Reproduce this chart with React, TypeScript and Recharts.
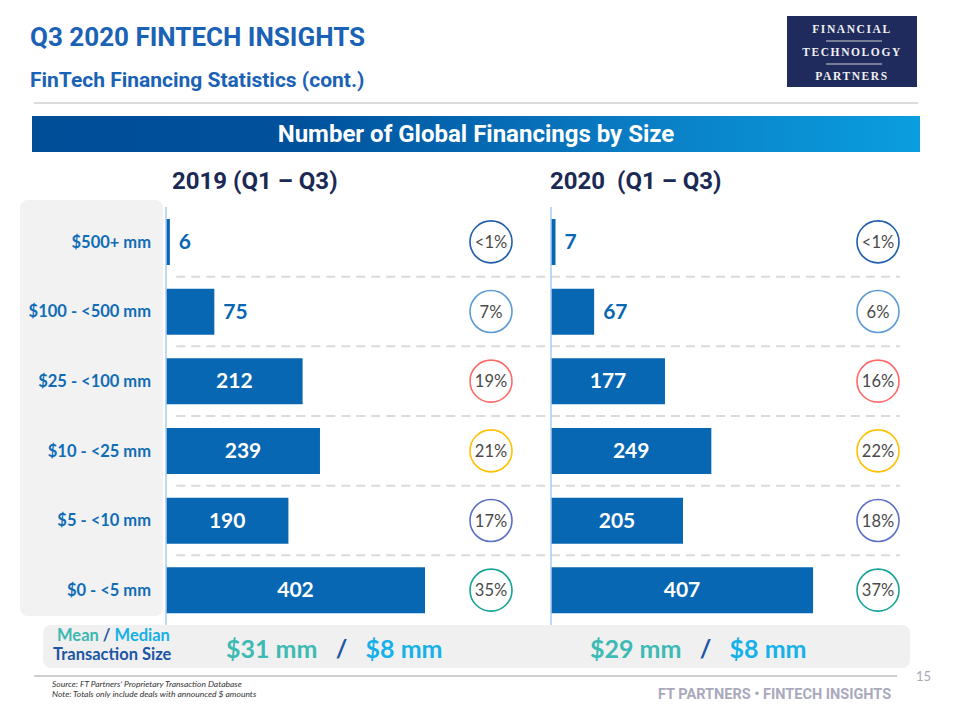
import React from "react";
import { BarChart, Bar, XAxis, YAxis, ReferenceLine, LabelList } from "recharts";

// size buckets, top to bottom
const sizeBuckets = ["$500+ mm", "$100 - <500 mm", "$25 - <100 mm", "$10 - <25 mm", "$5 - <10 mm", "$0 - <5 mm"];
const counts2019 = [6, 75, 212, 239, 190, 402];
const counts2020 = [7, 67, 177, 249, 205, 407];
const shares2019 = ["<1%", "7%", "19%", "21%", "17%", "35%"];
const shares2020 = ["<1%", "6%", "16%", "22%", "18%", "37%"];
const circleColors = ["#1f5fad", "#5b9bd5", "#ff6b6b", "#ffc000", "#5b6fc4", "#17a398"];

const mean2019 = "$31 mm";
const median2019 = "$8 mm";
const mean2020 = "$29 mm";
const median2020 = "$8 mm";

const BAR_BLUE = "#0867b3";
const FONT = "Lato, 'Open Sans', sans-serif";
const ROBOTO = "Roboto, sans-serif";

const rows2019 = sizeBuckets.map((label, i) => ({ label, count: counts2019[i], pct: shares2019[i] }));
const rows2020 = sizeBuckets.map((label, i) => ({ label, count: counts2020[i], pct: shares2020[i] }));

const ValueLabel = (props: any) => {
  const { x, y, width, height, value } = props;
  const cy = y + height / 2;
  if (width > 80) {
    return (
      <text x={x + width / 2} y={cy} dy={7} textAnchor="middle" fill="#fff" fontSize={21} fontWeight={700} fontFamily={FONT}>
        {value}
      </text>
    );
  }
  return (
    <text x={x + width + 9} y={cy} dy={7} textAnchor="start" fill={BAR_BLUE} fontSize={21} fontWeight={700} fontFamily={FONT}>
      {value}
    </text>
  );
};

const ShareTick = (props: any) => {
  const { x, y, payload, index, shift } = props;
  return (
    <g>
      <circle cx={x + shift} cy={y} r={21} fill="#fff" stroke={circleColors[index % circleColors.length]} strokeWidth={1.6} />
      <text x={x + shift} y={y} dy={6} textAnchor="middle" fill="#4a4a4a" fontSize={16.5} fontWeight={400} fontFamily={FONT}>
        {payload.value}
      </text>
    </g>
  );
};

function SizeChart({ data, withLabels, width, max, shift, dashStart }: any) {
  return (
    <BarChart
      width={width}
      height={432}
      data={data}
      layout="vertical"
      margin={{ top: 7, right: 0, bottom: 7, left: 0 }}
      barSize={46}
    >
      <XAxis type="number" hide domain={[0, max]} allowDataOverflow />
      <YAxis
        type="category"
        dataKey="label"
        width={withLabels ? 146 : 1}
        axisLine={{ stroke: "#a9cdef", strokeWidth: 1.5 }}
        tickLine={false}
        tickSize={0}
        tickMargin={15}
        tick={withLabels ? { fill: "#0f6cb6", fontSize: 16.5, fontWeight: 700, fontFamily: FONT } : false}
        interval={0}
      />
      <YAxis
        yAxisId="pct"
        orientation="right"
        type="category"
        dataKey="pct"
        width={1}
        axisLine={false}
        tickLine={false}
        tickSize={0}
        tickMargin={0}
        interval={0}
        tick={<ShareTick shift={shift} />}
      />
      {sizeBuckets.slice(1).map((b) => (
        <ReferenceLine
          key={b}
          segment={[{ x: dashStart, y: b }, { x: max, y: b }]}
          position="start"
          stroke="#dadada"
          strokeWidth={2}
          strokeDasharray="9 6"
        />
      ))}
      <Bar dataKey="count" fill={BAR_BLUE} isAnimationActive={false}>
        <LabelList dataKey="count" content={<ValueLabel />} />
      </Bar>
    </BarChart>
  );
}

export default function App() {
  const abs = (s: any) => ({ position: "absolute" as const, ...s });
  return (
    <div style={{ position: "absolute", left: 0, top: 0, width: 960, height: 720, background: "#fff", overflow: "hidden", fontFamily: ROBOTO }}>
      {/* header */}
      <div style={abs({ left: 30, top: 22, fontSize: 26, fontWeight: 700, color: "#1a62b5", whiteSpace: "nowrap" })}>Q3 2020 FINTECH INSIGHTS</div>
      <div style={abs({ left: 30, top: 68, fontSize: 21, fontWeight: 700, color: "#1a62b5", whiteSpace: "nowrap" })}>FinTech Financing Statistics (cont.)</div>
      <div style={abs({ left: 34, top: 102, width: 884, height: 2, background: "#dcdcdc" })} />

      {/* logo */}
      <div style={abs({ left: 787, top: 16, width: 130, height: 71, background: "#1f2a5d" })}>
        <svg width={130} height={71}>
          <g fontFamily="'Liberation Serif', 'DejaVu Serif', serif" fontSize={11.5} fontWeight={700} fill="#f0f0f0" textAnchor="middle" letterSpacing={1.6}>
            <text x={65} y={17}>FINANCIAL</text>
            <text x={65} y={40}>TECHNOLOGY</text>
            <text x={65} y={64}>PARTNERS</text>
          </g>
          <line x1={39} x2={95} y1={25} y2={25} stroke="#d0d0d0" strokeWidth={1.2} />
          <line x1={39} x2={95} y1={48} y2={48} stroke="#d0d0d0" strokeWidth={1.2} />
        </svg>
      </div>

      {/* banner */}
      <div
        style={abs({
          left: 32, top: 116, width: 888, height: 36,
          background: "linear-gradient(90deg, #004d98 0%, #00519c 30%, #0a7fc6 70%, #0a9edf 100%)",
          color: "#fff", fontSize: 24, fontWeight: 700, textAlign: "center", lineHeight: "36px",
        })}
      >
        Number of Global Financings by Size
      </div>

      <div style={abs({ left: 172, top: 167, fontSize: 24, fontWeight: 700, color: "#1b2a55", whiteSpace: "nowrap" })}>2019 (Q1 – Q3)</div>
      <div style={abs({ left: 550, top: 167, fontSize: 24, fontWeight: 700, color: "#1b2a55", whiteSpace: "pre" })}>2020  (Q1 – Q3)</div>

      {/* label panel */}
      <div style={abs({ left: 20, top: 200, width: 143, height: 416, background: "#f2f2f2", borderRadius: 8 })} />

      <div style={abs({ left: 20, top: 200 })}>
        <SizeChart data={rows2019} withLabels width={531} max={596} shift={-59} dashStart={16} />
      </div>
      <div style={abs({ left: 550, top: 200 })}>
        <SizeChart data={rows2020} withLabels={false} width={351} max={542} shift={-22} dashStart={0} />
      </div>

      {/* mean / median box */}
      <div style={abs({ left: 43, top: 625, width: 867, height: 43, background: "#f0f0f0", borderRadius: 8 })} />
      <div style={abs({ left: 57, top: 625, fontSize: 16.5, fontWeight: 700, fontFamily: FONT, whiteSpace: "pre" })}>
        <span style={{ color: "#3db8b0" }}>Mean</span>
        <span style={{ color: "#1c56a4" }}> / </span>
        <span style={{ color: "#16b0e8" }}>Median</span>
      </div>
      <div style={abs({ left: 53, top: 644, fontSize: 16.5, fontWeight: 700, fontFamily: FONT, color: "#1c56a4", whiteSpace: "nowrap" })}>Transaction Size</div>

      <div style={abs({ left: 226, top: 633, fontSize: 25, fontWeight: 700, fontFamily: FONT, whiteSpace: "pre" })}>
        <span style={{ color: "#3dbab4" }}>{mean2019}</span>
        <span style={{ color: "#1c56a4" }}>{"   /   "}</span>
        <span style={{ color: "#17b1ea" }}>{median2019}</span>
      </div>
      <div style={abs({ left: 590, top: 633, fontSize: 25, fontWeight: 700, fontFamily: FONT, whiteSpace: "pre" })}>
        <span style={{ color: "#3dbab4" }}>{mean2020}</span>
        <span style={{ color: "#1c56a4" }}>{"   /   "}</span>
        <span style={{ color: "#17b1ea" }}>{median2020}</span>
      </div>

      {/* footer */}
      <div style={abs({ left: 34, top: 675, width: 863, height: 2, background: "#cfcfcf" })} />
      <div style={abs({ left: 916, top: 668, fontSize: 13, color: "#a8a8b8", fontFamily: FONT })}>15</div>
      <div style={abs({ left: 52, top: 679, fontSize: 8.5, fontStyle: "italic", color: "#333", fontFamily: FONT, lineHeight: "10px", whiteSpace: "nowrap" })}>
        Source: FT Partners’ Proprietary Transaction Database
        <br />
        Note: Totals only include deals with announced $ amounts
      </div>
      <div style={abs({ left: 658, top: 686, fontSize: 14.5, fontWeight: 700, color: "#a9a9bc", whiteSpace: "nowrap" })}>FT PARTNERS • FINTECH INSIGHTS</div>
    </div>
  );
}
